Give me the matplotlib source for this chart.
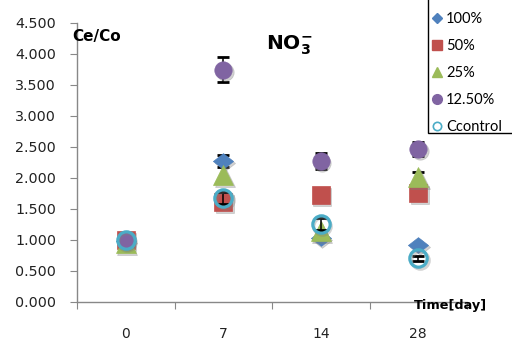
import matplotlib
matplotlib.use("Agg")
import matplotlib.pyplot as plt
import matplotlib.transforms as mtransforms
from matplotlib.lines import Line2D
from matplotlib.patches import Rectangle
import numpy as np

days = ["0", "7", "14", "28"]
series_names = ["100%", "50%", "25%", "12.50%", "Ccontrol"]
v100 = [0.97, 2.27, 1.02, 0.91]
v50 = [1.00, 1.61, 1.71, 1.75]
v25 = [0.95, 2.04, 1.13, 2.01]
v125 = [1.00, 3.74, 2.26, 2.46]
vctrl = [1.00, 1.67, 1.25, 0.70]
e100 = [0.0, 0.10, 0.0, 0.0]
e50 = [0.0, 0.0, 0.0, 0.0]
e25 = [0.0, 0.0, 0.0, 0.08]
e125 = [0.0, 0.20, 0.13, 0.12]
ectrl = [0.0, 0.09, 0.09, 0.04]
yticks = [0.0, 0.5, 1.0, 1.5, 2.0, 2.5, 3.0, 3.5, 4.0, 4.5]

W, H = 512, 343
fig = plt.figure(figsize=(W / 100, H / 100), dpi=100)
ax = fig.add_axes([77 / W, 1 - 301.5 / H, 390 / W, 279 / H])

diamond = [(-1, 0), (0, 0.78), (1, 0), (0, -0.78), (-1, 0)]
colors = ["#4F81BD", "#C0504D", "#9BBB59", "#8064A2", "#4BACC6"]
x = np.arange(len(days)) + 0.5
styles = [
    (v100, e100, dict(marker=diamond, ms=14.5, mfc=colors[0], mec=colors[0], mew=0.5)),
    (v50, e50, dict(marker="s", ms=12.5, mfc=colors[1], mec=colors[1], mew=0.5)),
    (v25, e25, dict(marker="^", ms=14, mfc=colors[2], mec=colors[2], mew=0.5)),
    (v125, e125, dict(marker="o", ms=12.5, mfc=colors[3], mec=colors[3], mew=0.5)),
    (vctrl, ectrl, dict(marker="o", ms=12.5, mfc="none", mec=colors[4], mew=2.3)),
]
shadow_tr = mtransforms.offset_copy(ax.transData, fig=fig, x=1.5, y=-2.0, units="dots")
for i, (vals, errs, st) in enumerate(styles):
    z = 3 + 3 * i
    vals = np.asarray(vals)
    errs = np.asarray(errs)
    has_err = errs > 0
    if has_err.any():
        ax.errorbar(x[has_err], vals[has_err], yerr=errs[has_err], fmt="none",
                    ecolor="black", elinewidth=1.1, capsize=4.2, capthick=2.0, zorder=z)
    sh = dict(st)
    sh["mfc"] = "#7f7f7f" if st["mfc"] != "none" else "none"
    sh["mec"] = "#7f7f7f"
    ax.plot(x, vals, ls="none", zorder=z + 0.5, alpha=0.35, transform=shadow_tr, **sh)
    ax.plot(x, vals, ls="none", zorder=z + 1, **st)

ax.set_xlim(0, 4)
ax.set_ylim(0, 4.5)
ax.set_yticks(yticks)
ax.set_yticklabels([f"{t:.3f}" for t in yticks])
ax.set_xticks([0, 1, 2, 3, 4])
ax.set_xticklabels([])
ax.set_xticks(x, minor=True)
ax.set_xticklabels(days, minor=True)
ax.tick_params(axis="x", which="minor", length=0, pad=18, labelsize=10, labelcolor="#222222")
ax.tick_params(axis="x", which="major", direction="out", length=5, color="#888888")
ax.tick_params(axis="y", direction="out", length=5, color="#888888", pad=10,
               labelsize=10.3, labelcolor="#222222")
for s in ["top", "right"]:
    ax.spines[s].set_visible(False)
for s in ["left", "bottom"]:
    ax.spines[s].set_color("#888888")
    ax.spines[s].set_linewidth(1.0)

fig.text(72 / W, 1 - 37 / H, "Ce/Co", fontsize=11, fontweight="bold", va="center", ha="left")
fig.text(289 / W, 1 - 45 / H, r"$\mathbf{NO_3^{-}}$", fontsize=14.5, va="center", ha="center")
fig.text(487 / W, 1 - 306 / H, "Time[day]", fontsize=9.3, fontweight="bold", va="center", ha="right")

# legend frame: only the left and bottom edges fall inside the canvas
fig.patches.append(Rectangle((428 / W, 1 - 133 / H), 120 / W, 160 / H, transform=fig.transFigure,
                             facecolor="white", edgecolor="black", linewidth=1.0, zorder=5))
leg_handles = [
    Line2D([], [], ls="none", marker="D", ms=5.5, mfc=colors[0], mec=colors[0]),
    Line2D([], [], ls="none", marker="s", ms=7, mfc=colors[1], mec=colors[1]),
    Line2D([], [], ls="none", marker="^", ms=7.5, mfc=colors[2], mec=colors[2]),
    Line2D([], [], ls="none", marker="o", ms=7, mfc=colors[3], mec=colors[3]),
    Line2D([], [], ls="none", marker="o", ms=6, mfc="none", mec=colors[4], mew=1.2),
]
leg = fig.legend(leg_handles, series_names, loc="upper left",
                 bbox_to_anchor=(428 / W, 1 - 9 / H), borderaxespad=0,
                 frameon=False, prop={"family": "Lato", "size": 10.5}, labelspacing=0.9,
                 handlelength=0.8, handletextpad=0.25, borderpad=0.2)
leg.set_zorder(6)

fig.savefig("out.png", dpi=100)
